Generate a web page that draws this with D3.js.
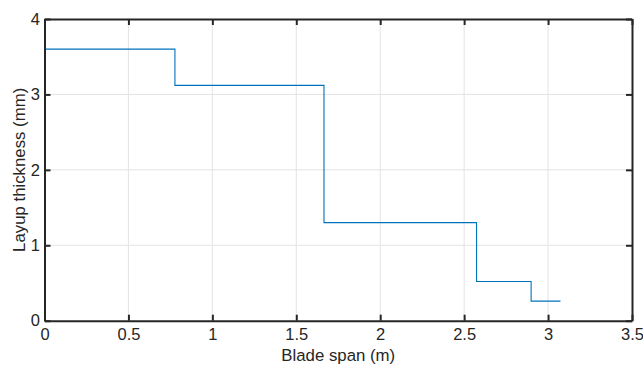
<!DOCTYPE html>
<html lang="en">
<head>
<meta charset="UTF-8">
<title>Layup thickness</title>
<script src="https://cdn.jsdelivr.net/npm/d3@7"></script>
<style>
  body { margin: 0; background: #fff; }
  svg { display: block; font-family: "Liberation Sans", Arial, sans-serif; }
</style>
</head>
<body>
<div id="chart"></div>
<script>
  // step profile: span breakpoints (m) and thickness per segment (mm)
  const spanEdges = [0, 0.777, 1.665, 2.574, 2.899, 3.074];
  const thickness = [3.60, 3.12, 1.30, 0.52, 0.26];
  const xTicks = [0, 0.5, 1, 1.5, 2, 2.5, 3, 3.5];
  const yTicks = [0, 1, 2, 3, 4];

  const width = 643, height = 367;
  const mLeft = 44.5, mRight = 632, mTop = 19, mBottom = 320.7;

  const x = d3.scaleLinear().domain([0, 3.5]).range([mLeft, mRight]);
  const y = d3.scaleLinear().domain([0, 4]).range([mBottom, mTop]);

  const svg = d3.select("#chart").append("svg")
      .attr("width", width)
      .attr("height", height);

  // grid
  svg.append("g")
      .selectAll("line")
      .data(xTicks.slice(1, -1))
      .join("line")
      .attr("x1", d => x(d)).attr("x2", d => x(d))
      .attr("y1", mTop).attr("y2", mBottom)
      .attr("stroke", "#e3e3e3");
  svg.append("g")
      .selectAll("line")
      .data(yTicks.slice(1, -1))
      .join("line")
      .attr("x1", mLeft).attr("x2", mRight)
      .attr("y1", d => y(d)).attr("y2", d => y(d))
      .attr("stroke", "#e3e3e3");

  // step line
  const pts = [];
  thickness.forEach((t, i) => {
    pts.push([spanEdges[i], t]);
    pts.push([spanEdges[i + 1], t]);
  });
  svg.append("path")
      .datum(pts)
      .attr("fill", "none")
      .attr("stroke", "#0072BD")
      .attr("stroke-width", 1.1)
      .attr("d", d3.line().x(d => x(d[0])).y(d => y(d[1])));

  // axes (MATLAB style, inward ticks, box)
  const axisColor = "#262626";
  const tl = 6;
  const xAxis = svg.append("g")
      .attr("transform", `translate(0,${mBottom})`)
      .call(d3.axisBottom(x).tickValues(xTicks).tickFormat(d3.format("~g"))
        .tickSizeInner(-tl).tickSizeOuter(0));
  const yAxis = svg.append("g")
      .attr("transform", `translate(${mLeft},0)`)
      .call(d3.axisLeft(y).tickValues(yTicks).tickFormat(d3.format("~g"))
        .tickSizeInner(-tl).tickSizeOuter(0));
  const xTop = svg.append("g")
      .attr("transform", `translate(0,${mTop})`)
      .call(d3.axisTop(x).tickValues(xTicks).tickFormat("")
        .tickSizeInner(-tl).tickSizeOuter(0));
  const yRight = svg.append("g")
      .attr("transform", `translate(${mRight},0)`)
      .call(d3.axisRight(y).tickValues(yTicks).tickFormat("")
        .tickSizeInner(-tl).tickSizeOuter(0));

  [xAxis, yAxis, xTop, yRight].forEach(g => {
    g.select(".domain").attr("stroke", axisColor).attr("stroke-width", 2);
    g.selectAll(".tick line").attr("stroke", axisColor).attr("stroke-width", 2);
    g.selectAll("text").attr("fill", axisColor)
      .style("font-family", "'Liberation Sans', Arial, sans-serif")
      .style("font-size", "16.5px");
  });
  xAxis.selectAll("text").attr("y", 8).attr("dy", "0.71em");
  yAxis.selectAll("text").attr("x", -4.5);

  svg.append("text")
      .attr("x", (mLeft + mRight) / 2)
      .attr("y", 360.5)
      .attr("text-anchor", "middle")
      .attr("fill", axisColor)
      .style("font-size", "16.8px")
      .text("Blade span (m)");

  svg.append("text")
      .attr("transform", `translate(25,${(mTop + mBottom) / 2}) rotate(-90)`)
      .attr("text-anchor", "middle")
      .attr("fill", axisColor)
      .style("font-size", "16.8px")
      .text("Layup thickness (mm)");
</script>
</body>
</html>
